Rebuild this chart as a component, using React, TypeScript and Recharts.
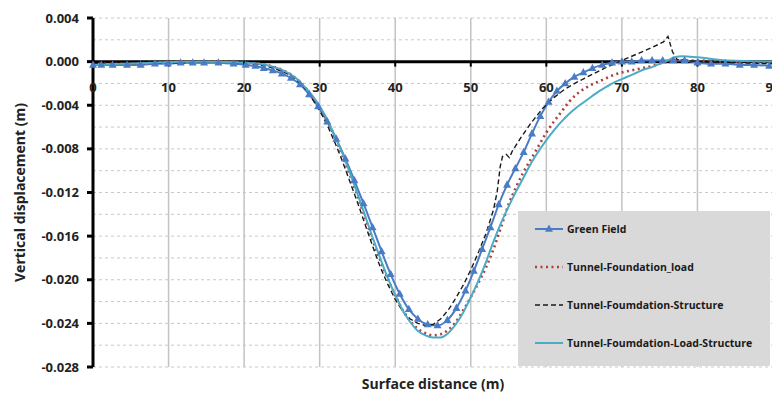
import React from 'react';
import {
  LineChart,
  Line,
  XAxis,
  YAxis,
  CartesianGrid,
  ReferenceLine,
  ReferenceDot,
  Legend,
} from 'recharts';

type Pt = [number, number];

// surface distance (m), vertical displacement (m)
const greenField: Pt[] = [
  [0, -0.0003], [1.1, -0.0003], [2.6, -0.0003], [4.5, -0.0003], [6.3, -0.0003],
  [8.2, -0.0002], [9.9, -0.0002], [11.6, -0.0001], [13.2, -0.0001], [14.7, -0.0001],
  [16.6, -0.0001], [18.6, -0.0002], [20.2, -0.0003], [21.5, -0.0004], [22.6, -0.0006],
  [23.8, -0.0008], [25, -0.0011], [26.2, -0.0015], [27.4, -0.0021], [28.6, -0.003],
  [29.8, -0.0041], [31, -0.0055], [32.2, -0.0071], [33.4, -0.0089], [34.6, -0.0109],
  [35.8, -0.013], [37, -0.0152], [38.2, -0.0174], [39.4, -0.0195], [40.6, -0.0213],
  [41.8, -0.0227], [43, -0.0236], [44.3, -0.0241], [45.6, -0.0242], [46.9, -0.0237],
  [48.1, -0.0226], [49.3, -0.021], [50.4, -0.0192], [51.5, -0.0172], [52.6, -0.0152],
  [53.7, -0.0131], [54.8, -0.0113], [55.9, -0.0098], [57, -0.0083], [58.1, -0.0066],
  [59.2, -0.005], [60.3, -0.0037], [61.4, -0.0027], [62.5, -0.002], [63.7, -0.0014],
  [64.9, -0.001], [66.1, -0.0006], [67.4, -0.0003], [68.7, -0.0001], [70, 0],
  [71.3, 0], [72.6, 0.0001], [74, 0.0001], [75.4, 0.0001], [76.8, 0.0001],
  [78.3, 0.0001], [80, -0.0001], [81.8, -0.0002], [83.7, -0.0002], [85.6, -0.0003],
  [87.5, -0.0003], [89.5, -0.0004],
];

const foundationLoad: Pt[] = [
  [0, -0.0002], [4, -0.0002], [8, -0.0001], [12, 0], [16, 0], [20, -0.0001],
  [22, -0.0002], [24, -0.0005], [26, -0.0011], [27, -0.0016], [28, -0.0023],
  [29, -0.0032], [30, -0.0042], [31, -0.0054], [32, -0.0069], [33, -0.0086],
  [34, -0.0104], [35, -0.0123], [36, -0.0143], [37, -0.0163], [38, -0.0182],
  [39, -0.0199], [40, -0.0214], [41, -0.0228], [42, -0.0238], [43, -0.0245],
  [44, -0.0249], [45, -0.0251], [46, -0.025], [47, -0.0246], [48, -0.0239],
  [49, -0.0228], [50, -0.0216], [51, -0.0203], [52, -0.0189], [53, -0.0172],
  [54, -0.0152], [55, -0.0131], [56, -0.0115], [57, -0.0101], [58, -0.0089],
  [59, -0.0077], [60, -0.0065], [61, -0.0055], [62, -0.0046], [63, -0.0037],
  [64, -0.003], [65, -0.0025], [66, -0.0021], [67, -0.0018], [68, -0.0015],
  [69, -0.0012], [70, -0.001], [72, -0.0007], [74, -0.0004], [76, 0],
  [77, 0.0001], [78, 0.0001], [80, 0.0001], [84, 0], [90, -0.0001],
];

const foundationStructure: Pt[] = [
  [0, -0.0002], [4, -0.0002], [8, -0.0001], [12, -0.0001], [16, 0], [20, -0.0001],
  [22, -0.0003], [24, -0.0006], [26, -0.0012], [27, -0.0017], [28, -0.0024],
  [29, -0.0034], [30, -0.0045], [31, -0.0058], [32, -0.0074], [33, -0.0091],
  [34, -0.011], [35, -0.0129], [36, -0.0149], [37, -0.0169], [38, -0.0188],
  [39, -0.0204], [40, -0.0218], [41, -0.0229], [42, -0.0236], [43, -0.024],
  [44, -0.0242], [45, -0.0241], [46, -0.0236], [47, -0.0228], [48, -0.0217],
  [49, -0.0205], [50, -0.0191], [51, -0.0175], [52, -0.0158], [53, -0.0136],
  [53.5, -0.0119], [53.9, -0.0096], [54.2, -0.0087], [54.7, -0.0085], [55.1, -0.0088],
  [55.5, -0.0082], [56.5, -0.0071], [58, -0.0056], [59.5, -0.0043], [61, -0.0033],
  [62.5, -0.0025], [64, -0.0019], [66, -0.0012], [68, -0.0005], [70, 0.0001],
  [72, 0.0007], [74, 0.0013], [75.5, 0.0018], [76.1, 0.0023], [76.7, 0.0009],
  [77.3, 0.0002], [80, 0], [85, -0.0001], [90, -0.0002],
];

const foundationLoadStructure: Pt[] = [
  [0, -0.0003], [4, -0.0002], [8, -0.0001], [12, 0], [16, 0], [20, -0.0001],
  [22, -0.0002], [24, -0.0005], [26, -0.0011], [27, -0.0016], [28, -0.0023],
  [29, -0.0031], [30, -0.0041], [31, -0.0053], [32, -0.0068], [33, -0.0084],
  [34, -0.0102], [35, -0.0121], [36, -0.0141], [37, -0.0161], [38, -0.018],
  [39, -0.0198], [40, -0.0214], [41, -0.0228], [42, -0.0239], [43, -0.0247],
  [44, -0.0251], [45, -0.0253], [46, -0.0253], [47, -0.0249], [48, -0.0241],
  [49, -0.023], [50, -0.0216], [51, -0.0201], [52, -0.0184], [53, -0.0165],
  [54, -0.0148], [55, -0.0133], [56, -0.0119], [57, -0.0106], [58, -0.0093],
  [59, -0.0082], [60, -0.0072], [61, -0.0063], [62, -0.0055], [63, -0.0048],
  [64, -0.0042], [65, -0.0037], [66, -0.0032], [67, -0.0027], [68, -0.0023],
  [69, -0.0019], [70, -0.0016], [71, -0.0013], [72, -0.001], [73, -0.0007],
  [74, -0.0005], [75, -0.0002], [76, 0.0001], [77, 0.0004], [78, 0.0005],
  [80, 0.0004], [84, 0.0001], [90, 0],
];

const yTicks = [0.004, 0, -0.004, -0.008, -0.012, -0.016, -0.02, -0.024, -0.028];
const xLabels = [0, 10, 20, 30, 40, 50, 60, 70, 80, 90];
const gridY = [
  0.004, 0.002, 0, -0.002, -0.004, -0.006, -0.008, -0.01, -0.012,
  -0.014, -0.016, -0.018, -0.02, -0.022, -0.024, -0.026, -0.028,
];
const gridX = Array.from({ length: 46 }, (_, i) => i * 2);

const FONT = '"Open Sans", "DejaVu Sans", sans-serif';

const series = [
  { name: 'Green Field', data: greenField, color: '#4a7cc6', width: 2, dash: undefined, curve: 'monotone', marker: true },
  { name: 'Tunnel-Foundation_load', data: foundationLoad, color: '#b03e3a', width: 2.6, dash: '2 3.5', curve: 'monotone', marker: false },
  { name: 'Tunnel-Foumdation-Structure', data: foundationStructure, color: '#1a1a1a', width: 1.4, dash: '5 3', curve: 'linear', marker: false },
  { name: 'Tunnel-Foumdation-Load-Structure', data: foundationLoadStructure, color: '#4bacc6', width: 2, dash: undefined, curve: 'monotone', marker: false },
];

const Triangle = (p: any) => {
  const { cx, cy, index } = p;
  if (cx == null || cy == null) return <g key={`t-${index}`} />;
  return (
    <path
      key={`t-${index}`}
      d={`M${cx},${cy - 4.5} L${cx - 4},${cy + 2.8} L${cx + 4},${cy + 2.8} Z`}
      fill="#4a7cc6"
    />
  );
};

// x labels sit under the zero line, not at the bottom of the plot
const XTickMark = (p: any) => {
  const { cx, cy, payload } = p;
  return (
    <g>
      <line x1={cx} y1={cy} x2={cx} y2={cy + 5} stroke="#000" strokeWidth={2} />
      <text x={cx} y={cy + 30} textAnchor="middle" fontFamily={FONT} fontWeight={700} fontSize={13} fill="#222">
        {payload}
      </text>
    </g>
  );
};

const LegendBox = () => (
  <div style={{ width: '100%', height: '100%', background: '#d9d9d9', position: 'relative', fontFamily: FONT }}>
    {series.map((s, i) => (
      <div
        key={s.name}
        style={{ position: 'absolute', left: 16, top: 10 + i * 38, height: 16, display: 'flex', alignItems: 'center' }}
      >
        <svg width={32} height={16}>
          <line x1={1} y1={8} x2={29} y2={8} stroke={s.color} strokeWidth={s.width} strokeDasharray={s.dash} />
          {s.marker && <path d="M15,3.5 L11,10.8 L19,10.8 Z" fill={s.color} />}
        </svg>
        <span style={{ fontSize: 10.5, fontWeight: 700, color: '#1a1a1a', marginLeft: 1, whiteSpace: 'nowrap' }}>{s.name}</span>
      </div>
    ))}
  </div>
);

export default function App() {
  return (
    <div style={{ width: 772, height: 386 }}>
      <LineChart width={772} height={386} margin={{ top: 10, right: 7, bottom: 0, left: 0 }}>
        <CartesianGrid
          stroke="#c9c9c9"
          strokeDasharray="3 3"
          horizontalValues={gridY}
          verticalValues={gridX}
        />
        <XAxis
          dataKey="x"
          type="number"
          domain={[0, 90]}
          ticks={gridX}
          allowDuplicatedCategory={false}
          tick={false}
          tickLine={false}
          axisLine={false}
          height={27}
          label={(p: any) => {
            const vb = p.viewBox;
            return (
              <text x={vb.x + vb.width / 2} y={vb.y + 22} textAnchor="middle" fontFamily={FONT} fontWeight={700} fontSize={14} fill="#222">
                Surface distance (m)
              </text>
            );
          }}
        />
        <YAxis
          type="number"
          domain={[-0.028, 0.004]}
          ticks={yTicks}
          width={85}
          allowDataOverflow
          interval={0}
          tickFormatter={(v: number) => v.toFixed(3)}
          tick={{ fontFamily: FONT, fontWeight: 700, fontSize: 13, fill: '#222' }}
          tickSize={6}
          tickMargin={8}
          tickLine={{ stroke: '#000', strokeWidth: 3 }}
          axisLine={{ stroke: '#000', strokeWidth: 3 }}
          label={(p: any) => {
            const vb = p.viewBox;
            const x = vb.x + 11;
            const y = vb.y + vb.height / 2;
            return (
              <text x={x} y={y} transform={`rotate(-90 ${x} ${y})`} textAnchor="middle" dominantBaseline="central" fontFamily={FONT} fontWeight={700} fontSize={14} fill="#222">
                Vertical displacement (m)
              </text>
            );
          }}
        />
        {xLabels.slice(1).map((v) => (
          <ReferenceLine key={`vx-${v}`} x={v} stroke="#c3c3c3" strokeWidth={1.5} />
        ))}
        <ReferenceLine y={0} stroke="#000" strokeWidth={3} />
        {xLabels.map((v) => (
          <ReferenceDot key={`xl-${v}`} x={v} y={0} r={0} shape={(p: any) => <XTickMark {...p} payload={v} />} />
        ))}
        <Legend
          layout="horizontal"
          verticalAlign="middle"
          align="center"
          wrapperStyle={{ position: 'absolute', left: 510, top: 203, width: 252, height: 155 }}
          content={() => <LegendBox />}
        />
        {series.map((s) => (
          <Line
            key={s.name}
            name={s.name}
            data={s.data.map(([x, y]) => ({ x, y }))}
            dataKey="y"
            type={s.curve as any}
            stroke={s.color}
            strokeWidth={s.width}
            strokeDasharray={s.dash}
            dot={s.marker ? Triangle : false}
            activeDot={false}
            isAnimationActive={false}
          />
        ))}
      </LineChart>
    </div>
  );
}
